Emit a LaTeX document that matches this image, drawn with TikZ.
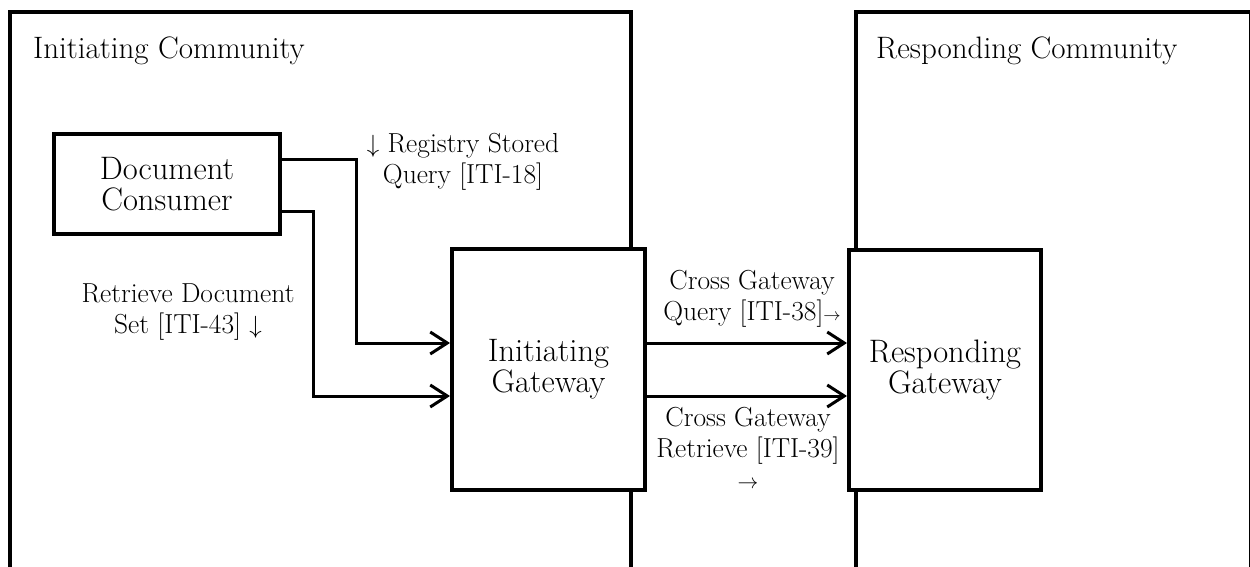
\documentclass[tikz,border=0pt]{standalone}
\usetikzlibrary{arrows.meta}
\begin{document}
\begin{tikzpicture}[x=1pt,y=-1pt,
  comm/.style={draw, line width=4pt, inner sep=0pt},
  box/.style={draw, line width=4pt, fill=white, align=center, font=\fontsize{32.5}{31}\selectfont, inner sep=0pt},
  lbl/.style={align=center, font=\fontsize{27.5}{31}\selectfont, inner sep=0pt},
  title/.style={anchor=west, font=\fontsize{31}{34}\selectfont, inner sep=0pt},
  conn/.style={line width=3pt, -{Straight Barb[length=17pt,width=22pt]}}]
\useasboundingbox (0,0) rectangle (1250,567);
\clip (0,0) rectangle (1250,567);
% communities
\node[comm, minimum width=621pt, minimum height=640pt] (ic) at (320.5,332.5) {};
\node[comm, minimum width=394.5pt, minimum height=640pt] (rc) at (1053.25,332.5) {};
\node[title] (ict) at (33,51) {Initiating Community};
\node[title] (rct) at (876,51) {Responding Community};
% actors
\node[box, minimum width=226pt, minimum height=100pt] (dc) at (167,184) {Document\\Consumer};
\node[box, minimum width=193pt, minimum height=241pt] (ig) at (548.5,369.5) {Initiating\\Gateway};
\node[box, minimum width=192pt, minimum height=240pt] (rg) at (945,370) {Responding\\Gateway};
% connectors
\draw[conn] ([yshift=25pt]dc.east) -- ++(74,0) |- ([yshift=26.5pt]ig.west);
\draw[conn] ([yshift=-27pt]dc.east) -- ++(31,0) |- ([yshift=-26.5pt]ig.west);
\draw[conn] ([yshift=26.5pt]ig.east) -- ([yshift=26.5pt]ig.east -| rg.west);
\draw[conn] ([yshift=-26.5pt]ig.east) -- ([yshift=-26.5pt]ig.east -| rg.west);
% labels
\node[lbl] (lreg) at (463,162) {$\downarrow$ Registry Stored\\Query [ITI-18]};
\node[lbl] (lret) at (188,312) {Retrieve Document\\Set [ITI-43] $\downarrow$};
\node[lbl] (lcgq) at (752,299) {Cross Gateway\\Query [ITI-38]{\fontsize{19}{19}\selectfont$\rightarrow$}};
\node[lbl] (lcgr) at (748,448) {Cross Gateway\\Retrieve [ITI-39]\\{\fontsize{20}{20}\selectfont$\rightarrow$}};
\end{tikzpicture}
\end{document}
